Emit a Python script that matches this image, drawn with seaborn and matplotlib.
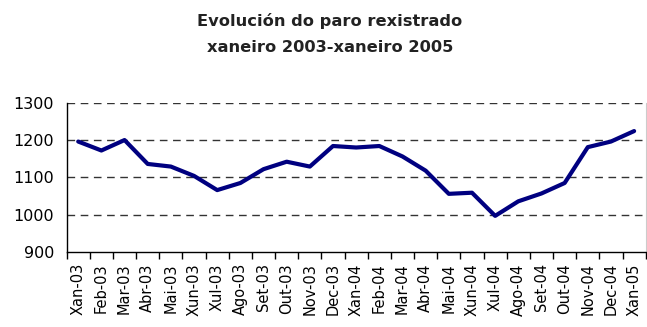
import matplotlib
matplotlib.use("Agg")
import matplotlib.pyplot as plt
from matplotlib.ticker import FixedLocator
import seaborn as sns
import pandas as pd

meses = ["Xan-03", "Feb-03", "Mar-03", "Abr-03", "Mai-03", "Xun-03", "Xul-03",
         "Ago-03", "Set-03", "Out-03", "Nov-03", "Dec-03", "Xan-04", "Feb-04",
         "Mar-04", "Abr-04", "Mai-04", "Xun-04", "Xul-04", "Ago-04", "Set-04",
         "Out-04", "Nov-04", "Dec-04", "Xan-05"]
parados = [1196, 1172, 1200, 1136, 1129, 1104, 1066, 1085, 1122, 1142, 1129,
           1184, 1180, 1184, 1156, 1118, 1056, 1059, 997, 1036, 1057, 1085,
           1181, 1196, 1224]
y_ticks = [900, 1000, 1100, 1200, 1300]

df = pd.DataFrame({"mes": meses, "parados": parados})

sns.set_style("white")
plt.rcParams["font.family"] = ["DejaVu Sans"]

fig = plt.figure(figsize=(6.47, 3.27), dpi=100)
ax = fig.add_axes([0.103, 0.229, 0.895, 0.457])

sns.lineplot(data=df, x="mes", y="parados", ax=ax, color="#000080",
             linewidth=3.0, sort=False)

ax.set_ylim(900, 1300)
ax.set_xlim(-0.5, len(meses) - 0.5)
ax.set_yticks(y_ticks)
ax.set_yticklabels([str(v) for v in y_ticks], fontsize=11.5, color="black")
ax.tick_params(axis="y", length=0, pad=9)

ax.set_xticks(range(len(meses)))
ax.set_xticklabels(meses, rotation=90, fontsize=10.5, color="black")
ax.tick_params(axis="x", which="major", length=0, pad=8)
ax.xaxis.set_minor_locator(FixedLocator([i - 0.5 for i in range(len(meses) + 1)]))
ax.tick_params(axis="x", which="minor", bottom=True, length=5, width=1,
               color="black", direction="out")

for v in [1000, 1100, 1200, 1300]:
    ax.axhline(v, color="#333333", linestyle=(0, (5.5, 4)), linewidth=1.0, zorder=0)

ax.set_xlabel("")
ax.set_ylabel("")
for side in ["left", "bottom"]:
    ax.spines[side].set_color("black")
    ax.spines[side].set_linewidth(1.0)
ax.spines["top"].set_visible(False)
ax.spines["right"].set_color("#cccccc")
ax.spines["right"].set_linewidth(0.8)

fig.text(0.51, 0.935, "Evolución do paro rexistrado", ha="center", va="center",
         fontsize=11.7, fontweight="semibold", color="#222222")
fig.text(0.51, 0.855, "xaneiro 2003-xaneiro 2005", ha="center", va="center",
         fontsize=11.7, fontweight="semibold", color="#222222")

fig.savefig("out.png", dpi=100)
